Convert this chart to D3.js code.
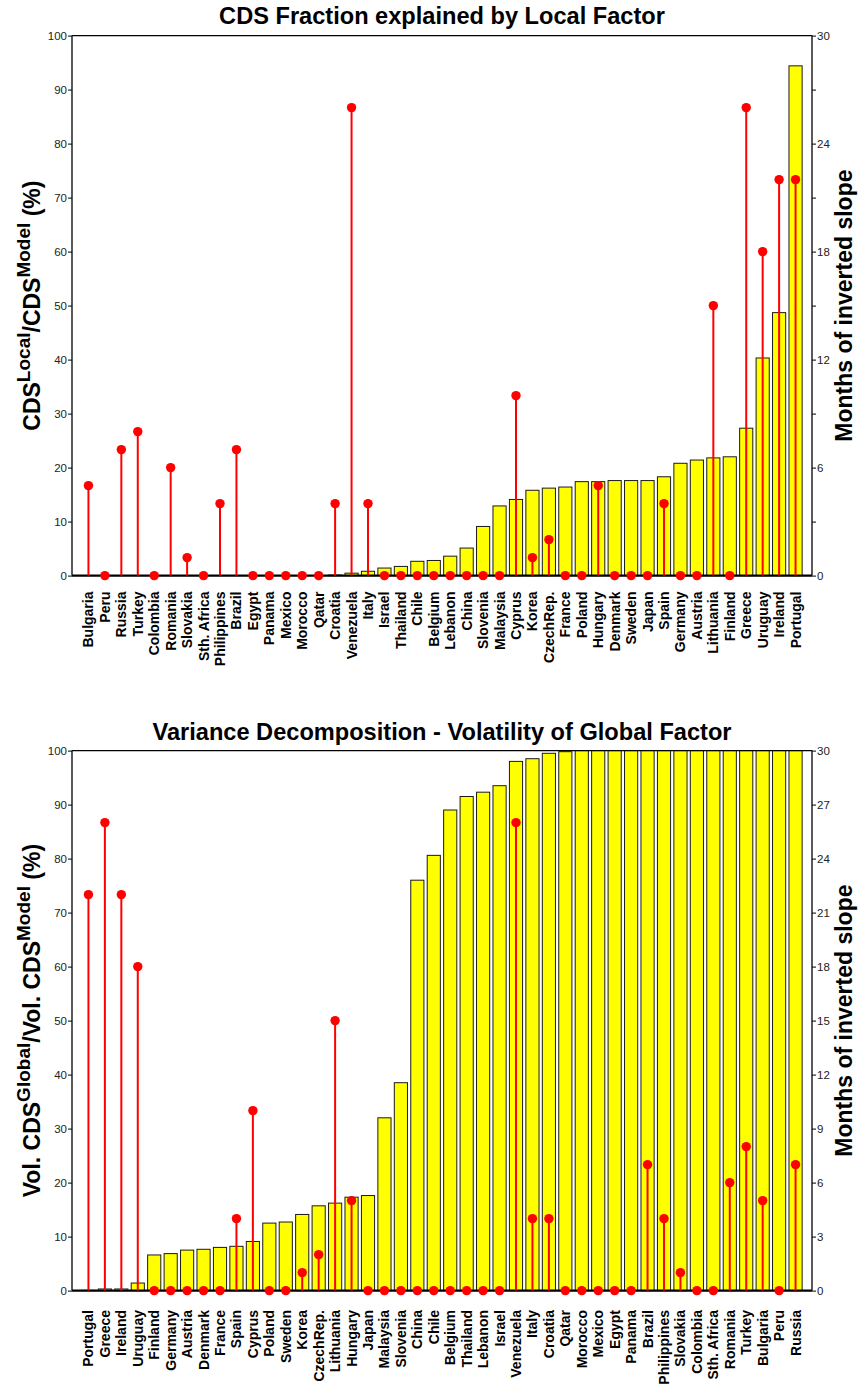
<!DOCTYPE html>
<html>
<head>
<meta charset="utf-8">
<script src="https://cdn.jsdelivr.net/npm/d3@7"></script>
<style>
  body { margin: 0; background: #fff; }
  svg { font-family: "Liberation Sans", Arial, sans-serif; }
  .tick text { fill: #222; font-size: 11.5px; }
  .tick line { stroke: #000; }
  .domain { display: none; }
</style>
</head>
<body>
<div id="vis"></div>
<script>
// frame constants
const FRAME_WIDTH = 862;
const FRAME_HEIGHT = 1389;
const PLOT_LEFT = 72;
const PLOT_RIGHT = 812;

// ---- data: top chart (local factor share, months of inverted slope)
const topCountries = ["Bulgaria","Peru","Russia","Turkey","Colombia","Romania","Slovakia","Sth. Africa",
  "Philippines","Brazil","Egypt","Panama","Mexico","Morocco","Qatar","Croatia","Venezuela","Italy",
  "Israel","Thailand","Chile","Belgium","Lebanon","China","Slovenia","Malaysia","Cyprus","Korea",
  "CzechRep.","France","Poland","Hungary","Denmark","Sweden","Japan","Spain","Germany","Austria",
  "Lithuania","Finland","Greece","Uruguay","Ireland","Portugal"];
const topShare = [0,0,0,0,0,0,0,0,0,0,0,0,0,0,0,0.1,0.45,0.8,
  1.4,1.7,2.65,2.8,3.6,5.1,9.1,12.9,14.1,15.8,
  16.2,16.4,17.4,17.4,17.6,17.6,17.6,18.3,20.8,21.4,
  21.8,22.0,27.3,40.3,48.7,94.4];
const topMonths = [5,0,7,8,0,6,1,0,4,7,0,0,0,0,0,4,26,4,
  0,0,0,0,0,0,0,0,10,1,
  2,0,0,5,0,0,0,4,0,0,
  15,0,26,18,22,22];

// ---- data: bottom chart (global factor share of volatility)
const botCountries = ["Portugal","Greece","Ireland","Uruguay","Finland","Germany","Austria","Denmark",
  "France","Spain","Cyprus","Poland","Sweden","Korea","CzechRep.","Lithuania","Hungary","Japan",
  "Malaysia","Slovenia","China","Chile","Belgium","Thailand","Lebanon","Israel","Venezuela","Italy",
  "Croatia","Qatar","Morocco","Mexico","Egypt","Panama","Brazil","Philippines","Slovakia","Colombia",
  "Sth. Africa","Romania","Turkey","Bulgaria","Peru","Russia"];
const botShare = [0.05,0.3,0.3,1.4,6.6,6.85,7.5,7.65,
  8.0,8.2,9.1,12.5,12.7,14.1,15.7,16.2,17.3,17.6,
  32.0,38.5,76.0,80.6,89.0,91.5,92.3,93.5,98.0,98.5,
  99.5,99.8,100,100,100,100,100,100,100,100,
  100,100,100,100,100,100];
const botMonths = [22,26,22,18,0,0,0,0,
  0,4,10,0,0,1,2,15,5,0,
  0,0,0,0,0,0,0,0,26,4,
  4,0,0,0,0,0,7,4,1,0,
  0,6,8,5,0,7];

// ---- axis ticks
const leftTicks = [0,10,20,30,40,50,60,70,80,90,100];
const rightTicks = [0,3,6,9,12,15,18,21,24,27,30];
const topRightLabels = [0,6,12,18,24,30];
const botRightLabels = [0,3,6,9,12,15,18,21,24,27,30];

const SVG = d3.select("#vis")
  .append("svg")
    .attr("width", FRAME_WIDTH)
    .attr("height", FRAME_HEIGHT);

function drawPanel(cfg) {
  const X_SCALE = d3.scaleLinear()
    .domain([0, cfg.countries.length + 1])
    .range([PLOT_LEFT, PLOT_RIGHT]);
  const Y_LEFT = d3.scaleLinear().domain([0, 100]).range([cfg.y0, cfg.y1]);
  const Y_RIGHT = d3.scaleLinear().domain([0, 30]).range([cfg.y0, cfg.y1]);
  const barW = (X_SCALE(1) - X_SCALE(0)) * 0.8;

  const g = SVG.append("g");

  // title
  g.append("text")
    .attr("x", 442)
    .attr("y", cfg.titleY)
    .attr("text-anchor", "middle")
    .attr("font-size", "23.6px")
    .attr("font-weight", "bold")
    .text(cfg.title);

  // bars
  g.selectAll("rect.bar")
    .data(cfg.share)
    .enter()
    .append("rect")
      .attr("class", "bar")
      .attr("x", (d, i) => X_SCALE(i + 1) - barW / 2)
      .attr("y", (d) => Y_LEFT(d))
      .attr("width", barW)
      .attr("height", (d) => cfg.y0 - Y_LEFT(d))
      .attr("fill", "#ffff00")
      .attr("stroke", "#1a1a1a")
      .attr("stroke-width", 1);

  // frame lines
  g.append("line").attr("x1", PLOT_LEFT).attr("x2", PLOT_RIGHT)
    .attr("y1", cfg.y1).attr("y2", cfg.y1).attr("stroke", "#000").attr("stroke-width", 1.3);
  g.append("line").attr("x1", PLOT_LEFT).attr("x2", PLOT_LEFT)
    .attr("y1", cfg.y1).attr("y2", cfg.y0).attr("stroke", "#000").attr("stroke-width", 1.3);
  g.append("line").attr("x1", PLOT_RIGHT).attr("x2", PLOT_RIGHT)
    .attr("y1", cfg.y1).attr("y2", cfg.y0).attr("stroke", "#000").attr("stroke-width", 1.3);
  g.append("line").attr("x1", PLOT_LEFT).attr("x2", PLOT_RIGHT)
    .attr("y1", cfg.y0).attr("y2", cfg.y0).attr("stroke", "#000").attr("stroke-width", 2.2);

  // stems
  g.selectAll("line.stem")
    .data(cfg.months)
    .enter()
    .append("line")
      .attr("class", "stem")
      .attr("x1", (d, i) => X_SCALE(i + 1))
      .attr("x2", (d, i) => X_SCALE(i + 1))
      .attr("y1", cfg.y0)
      .attr("y2", (d) => Y_RIGHT(d))
      .attr("stroke", "#ff0000")
      .attr("stroke-width", 2);

  g.selectAll("circle.dot")
    .data(cfg.months)
    .enter()
    .append("circle")
      .attr("class", "dot")
      .attr("cx", (d, i) => X_SCALE(i + 1))
      .attr("cy", (d) => Y_RIGHT(d))
      .attr("r", 4.7)
      .attr("fill", "#ff0000");

  // left axis
  g.append("g")
    .attr("transform", "translate(" + PLOT_LEFT + ",0)")
    .call(d3.axisLeft(Y_LEFT).tickValues(leftTicks).tickSize(4).tickPadding(1));

  // right axis
  g.append("g")
    .attr("transform", "translate(" + PLOT_RIGHT + ",0)")
    .call(d3.axisRight(Y_RIGHT).tickValues(rightTicks).tickSize(4).tickPadding(1)
      .tickFormat((d) => cfg.rightLabels.includes(d) ? d : ""));

  // country labels
  g.selectAll("text.country")
    .data(cfg.countries)
    .enter()
    .append("text")
      .attr("class", "country")
      .attr("transform", (d, i) => "translate(" + X_SCALE(i + 1) + "," + cfg.labelY + ") rotate(-90)")
      .attr("dy", "0.36em")
      .attr("text-anchor", "end")
      .attr("font-size", "14px")
      .attr("font-weight", "bold")
      .text((d) => d);

  // left y label with superscripts
  const yMid = (cfg.y0 + cfg.y1) / 2;
  const lab = g.append("text")
    .attr("transform", "translate(40," + yMid + ") rotate(-90)")
    .attr("text-anchor", "middle")
    .attr("font-weight", "bold")
    .attr("font-size", "23px");
  cfg.yLabel.forEach((part) => {
    lab.append("tspan")
      .attr("font-size", part.sup ? "19px" : "23px")
      .attr("dy", part.dy)
      .text(part.t);
  });

  // right y label
  g.append("text")
    .attr("transform", "translate(852," + yMid + ") rotate(-90)")
    .attr("text-anchor", "middle")
    .attr("font-weight", "bold")
    .attr("font-size", "23px")
    .text("Months of inverted slope");
}

drawPanel({
  title: "CDS Fraction explained by Local Factor",
  titleY: 23.5,
  y0: 575.6, y1: 35.6,
  labelY: 591.5,
  countries: topCountries,
  share: topShare,
  months: topMonths,
  rightLabels: topRightLabels,
  yLabel: [
    {t: "CDS", dy: 0}, {t: "Local", sup: true, dy: -10},
    {t: "/CDS", dy: 10}, {t: "Model", sup: true, dy: -10},
    {t: " (%)", dy: 10}
  ]
});

drawPanel({
  title: "Variance Decomposition - Volatility of Global Factor",
  titleY: 739.5,
  y0: 1290.6, y1: 750.6,
  labelY: 1310,
  countries: botCountries,
  share: botShare,
  months: botMonths,
  rightLabels: botRightLabels,
  yLabel: [
    {t: "Vol. CDS", dy: 0}, {t: "Global", sup: true, dy: -10},
    {t: "/Vol. CDS", dy: 10}, {t: "Model", sup: true, dy: -10},
    {t: " (%)", dy: 10}
  ]
});
</script>
</body>
</html>
